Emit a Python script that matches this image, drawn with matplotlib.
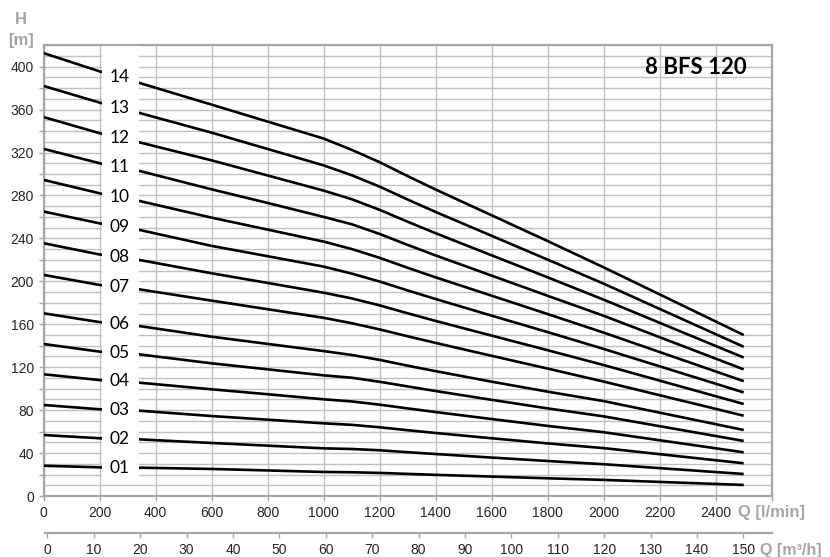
import numpy as np
import matplotlib
matplotlib.use("Agg")
import matplotlib.pyplot as plt
from matplotlib.patches import Rectangle

plt.rcParams['font.family'] = ['Liberation Sans', 'DejaVu Sans']

# debit noktalari [l/min]
q_lmin = [0, 200, 340, 600, 800, 1000, 1100, 1200, 1300, 1400, 1600, 1800, 2000, 2500]

# basma yuksekligi [m], kademe sayisina gore
h_01 = [28.2, 26.7, 26.4, 25.2, 23.8, 22.4, 22.1, 21.5, 20.6, 19.7, 18.1, 16.5, 15.0, 10.3]
h_02 = [56.8, 53.8, 52.8, 49.4, 46.9, 44.4, 43.8, 42.6, 40.8, 39.1, 35.8, 32.6, 29.6, 20.5]
h_03 = [84.8, 80.8, 79.5, 74.5, 71.1, 67.7, 66.3, 64.0, 61.3, 58.7, 53.8, 49.0, 44.6, 30.5]
h_04 = [113.4, 108.0, 105.6, 99.4, 94.8, 90.1, 88.1, 85.1, 81.6, 78.2, 71.7, 65.3, 59.4, 40.7]
h_05 = [141.6, 134.5, 132.0, 123.6, 118.0, 112.4, 110.2, 106.4, 102.1, 97.8, 89.6, 81.6, 74.2, 51.3]
h_06 = [170.2, 162.0, 158.4, 148.4, 141.7, 135.0, 131.4, 126.8, 121.4, 116.3, 106.5, 97.2, 88.4, 61.5]
h_07 = [206.0, 196.6, 192.6, 182.0, 174.0, 166.0, 161.0, 155.2, 148.8, 142.6, 130.6, 118.7, 106.6, 74.8]
h_08 = [235.5, 225.0, 220.0, 207.5, 198.5, 189.4, 184.1, 177.6, 170.2, 163.1, 149.4, 135.8, 122.0, 85.7]
h_09 = [265.0, 254.0, 248.0, 233.0, 223.4, 213.7, 207.2, 199.8, 191.5, 183.5, 168.0, 152.7, 137.0, 96.5]
h_10 = [294.5, 282.0, 275.0, 259.3, 248.2, 237.0, 230.1, 221.9, 212.6, 203.7, 186.6, 169.5, 152.2, 107.0]
h_11 = [323.4, 310.0, 303.0, 285.7, 273.0, 260.0, 253.2, 244.1, 233.9, 224.1, 205.3, 186.5, 167.9, 118.0]
h_12 = [353.0, 338.0, 329.6, 312.7, 298.6, 284.5, 276.5, 266.6, 255.5, 244.8, 224.2, 203.7, 182.9, 129.0]
h_13 = [382.0, 366.5, 357.0, 338.5, 323.3, 308.0, 298.9, 288.2, 276.2, 264.6, 242.4, 220.2, 197.8, 139.0]
h_14 = [412.6, 395.6, 385.0, 364.6, 348.8, 333.0, 322.5, 311.0, 298.0, 285.5, 261.5, 237.5, 213.0, 150.0]

egriler = [h_01, h_02, h_03, h_04, h_05, h_06, h_07, h_08, h_09, h_10, h_11, h_12, h_13, h_14]
etiketler = ['01', '02', '03', '04', '05', '06', '07', '08', '09', '10', '11', '12', '13', '14']

x_ticks = list(range(0, 2601, 200))
x_labels = [str(v) for v in x_ticks[:-1]] + ['']
y_ticks = list(range(0, 401, 20))
y_labels = [str(v) if v % 40 == 0 else '' for v in y_ticks]
m3h_ticks = list(range(0, 151, 10))

GRI = '#a6a6a6'
YAZI = '#262626'

W, H = 830, 557
fig = plt.figure(figsize=(W / 100, H / 100), dpi=100)

ax = fig.add_axes([43.7 / W, 1 - 496 / H, (771.7 - 43.7) / W, (496 - 45.2) / H])
ax.set_xlim(0, 2600)
ax.set_ylim(0, 420)

ax.set_xticks(x_ticks)
ax.set_xticklabels(x_labels)
ax.set_yticks(y_ticks)
ax.set_yticklabels(y_labels)
ax.set_yticks(range(0, 421, 10), minor=True)
ax.tick_params(axis='both', which='major', length=3.5, width=1, color=GRI,
               labelsize=10, labelcolor=YAZI, pad=3.5)
ax.tick_params(axis='both', which='minor', length=0)
ax.grid(True, which='both', axis='y', color='#c0c0c0', lw=1.0)
ax.grid(True, which='major', axis='x', color='#c0c0c0', lw=1.0)
ax.set_axisbelow(True)
for s in ax.spines.values():
    s.set_color(GRI)
    s.set_linewidth(1.6)

for h in egriler:
    ax.plot(q_lmin, h, color='black', lw=1.9, zorder=3,
            solid_capstyle='butt', solid_joinstyle='round')

# etiketlerin arkasindaki beyaz kutu
ax.add_patch(Rectangle((207, 16), 135, 403, facecolor='white', edgecolor='none', zorder=4))
for h, et in zip(egriler, etiketler):
    ax.text(270, np.interp(270, q_lmin, h), et, ha='center', va='center',
            fontsize=12.5, family=['Lato', 'DejaVu Sans'], color='black', zorder=5)

fig.text(747 / W, 1 - 67 / H, '8 BFS 120', ha='right', va='center', fontsize=16,
         fontweight='bold', family=['Lato', 'DejaVu Sans'], color='black')

# ikinci eksen: m3/h
ax2 = fig.add_axes([45 / W, 1 - 533.3 / H, (771.7 - 45) / W, 0.0001])
ax2.set_xlim(-0.5, 156.1)
ax2.set_xticks(m3h_ticks)
ax2.set_xticklabels([str(v) for v in m3h_ticks])
ax2.set_yticks([])
ax2.patch.set_visible(False)
for k in ['top', 'left', 'right']:
    ax2.spines[k].set_visible(False)
ax2.spines['bottom'].set_color(GRI)
ax2.spines['bottom'].set_linewidth(1.6)
ax2.tick_params(axis='x', length=3.5, width=1, color=GRI, labelsize=10,
                labelcolor=YAZI, pad=3.5)

baslik = dict(fontsize=12, fontweight='bold', color=GRI)
fig.text(21 / W, 1 - 19 / H, 'H', ha='center', va='center', **baslik)
fig.text(21 / W, 1 - 41 / H, '[m]', ha='center', va='center', **baslik)
fig.text(738 / W, 1 - 513 / H, 'Q [l/min]', ha='left', va='center', **baslik)
fig.text(760 / W, 1 - 550 / H, 'Q [m³/h]', ha='left', va='center',
         fontsize=11.5, fontweight='bold', color=GRI)

fig.savefig('out.png', dpi=100)
